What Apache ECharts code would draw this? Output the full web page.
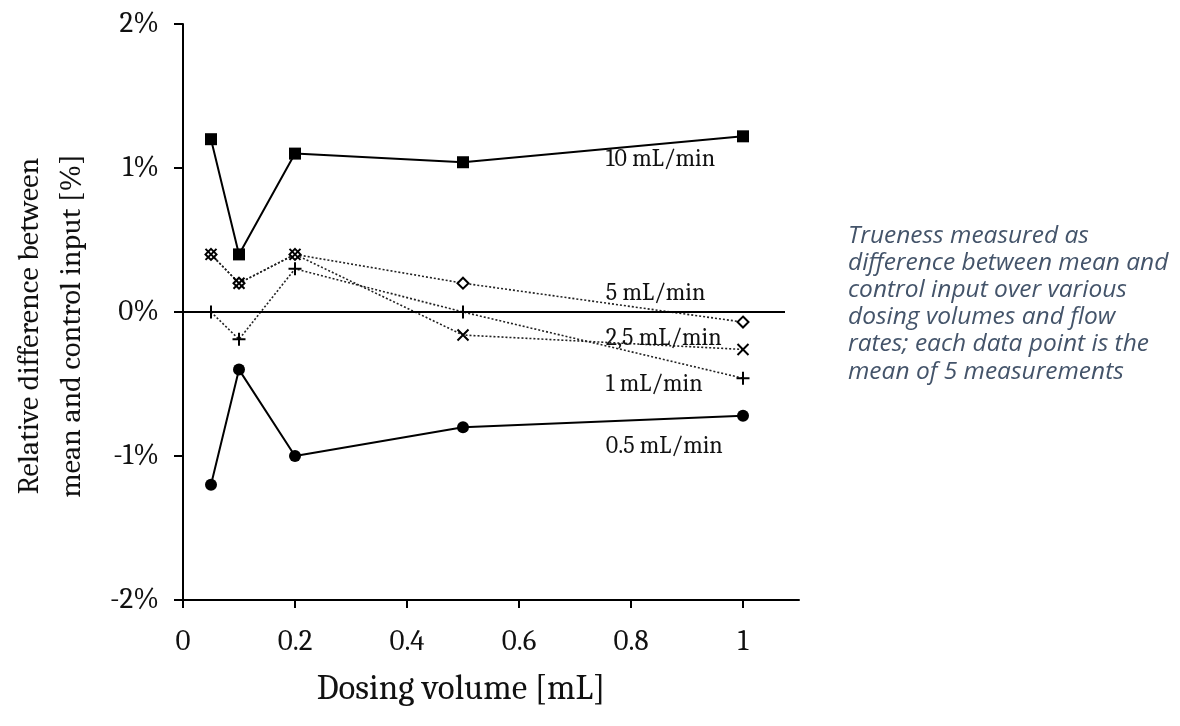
<!DOCTYPE html>
<html>
<head>
<meta charset="utf-8">
<script src="https://cdn.jsdelivr.net/npm/echarts@6/dist/echarts.min.js"></script>
<style>
  html, body { margin: 0; padding: 0; background: #fff; }
  #chart { width: 1180px; height: 726px; }
</style>
</head>
<body>
<div id="chart"></div>
<script>
// dosing volumes [mL]
const volumes = [0.05, 0.1, 0.2, 0.5, 1];

// relative difference [%] per flow rate
const flow10 = [1.2, 0.4, 1.1, 1.04, 1.22];
const flow5 = [0.4, 0.2, 0.4, 0.2, -0.07];
const flow25 = [0.4, 0.2, 0.4, -0.16, -0.26];
const flow1 = [0.0, -0.19, 0.3, 0.0, -0.46];
const flow05 = [-1.2, -0.4, -1.0, -0.8, -0.72];

// in-plot annotations
const labelNames = ['10 mL/min', '5 mL/min', '2,5 mL/min', '1 mL/min', '0.5 mL/min'];
const labelX = [0.755, 0.755, 0.755, 0.755, 0.755];
const labelY = [1.06, 0.13, -0.18, -0.5, -0.93];

const yTicks = [-2, -1, 0, 1, 2];
const xTicks = [0, 0.2, 0.4, 0.6, 0.8, 1];

const note = 'Trueness measured as\ndifference between mean and\ncontrol input over various\ndosing volumes and flow\nrates; each data point is the\nmean of 5 measurements';

const serif = 'Cambria, "DejaVu Serif", serif';

const CROSS = 'path://M0,0L10,10M10,0L0,10';
const PLUS = 'path://M5,0L5,10M0,5L10,5';
const DIAMOND = 'path://M5,0L10,5L5,10L0,5Z';

const pairs = (ys) => volumes.map((v, i) => [v, ys[i]]);

const markFor = (i) => ({
  symbolSize: 0,
  silent: true,
  label: {
    show: true,
    position: 'right',
    distance: 0,
    formatter: labelNames[i],
    fontFamily: serif,
    fontSize: 24,
    color: '#111'
  },
  data: [{ coord: [labelX[i], labelY[i]] }]
});

const chart = echarts.init(document.getElementById('chart'));

const option = {
  animation: false,
  backgroundColor: '#fff',
  grid: { left: 183, right: 381, top: 24, bottom: 126, outerBoundsMode: 'none' },
  xAxis: {
    type: 'value',
    min: 0,
    max: 1.1,
    interval: 0.2,
    name: 'Dosing volume [mL]',
    nameLocation: 'middle',
    nameGap: 72,
    nameTextStyle: { fontFamily: serif, fontSize: 35, color: '#111', padding: [0, 60, 0, 0] },
    axisLine: { onZero: false, lineStyle: { color: '#000', width: 2 } },
    axisTick: { show: true, length: 8, lineStyle: { color: '#000', width: 2 } },
    axisLabel: {
      fontFamily: serif, fontSize: 29, color: '#111', margin: 27,
      showMaxLabel: false,
      formatter: (v) => (xTicks.includes(Math.round(v * 10) / 10) ? String(Math.round(v * 10) / 10) : '')
    },
    splitLine: { show: false }
  },
  yAxis: {
    type: 'value',
    min: -2,
    max: 2,
    interval: 1,
    name: 'Relative difference between\nmean and control input [%]',
    nameLocation: 'middle',
    nameRotate: 90,
    nameGap: 90,
    nameTextStyle: { fontFamily: serif, fontSize: 30, color: '#111', lineHeight: 42, padding: [0, 28, 0, 0] },
    axisLine: { show: true, lineStyle: { color: '#000', width: 2 } },
    axisTick: { show: true, length: 9, lineStyle: { color: '#000', width: 2 } },
    axisLabel: {
      fontFamily: serif, fontSize: 29, color: '#111', margin: 24,
      formatter: (v) => (yTicks.includes(v) ? v + '%' : '')
    },
    splitLine: { show: false }
  },
  series: [
    {
      name: '10 mL/min',
      type: 'line',
      data: pairs(flow10),
      symbol: 'rect',
      symbolSize: 12,
      lineStyle: { color: '#000', width: 2 },
      itemStyle: { color: '#000' },
      markPoint: markFor(0),
      markLine: {
        silent: true,
        symbol: ['none', 'none'],
        label: { show: false },
        lineStyle: { color: '#000', width: 2, type: 'solid' },
        data: [[{ coord: [0, 0] }, { coord: [1.075, 0] }]]
      }
    },
    {
      name: '5 mL/min',
      type: 'line',
      data: pairs(flow5),
      symbol: DIAMOND,
      symbolSize: 11,
      lineStyle: { color: '#222', width: 1.6, type: [2, 2] },
      itemStyle: { color: '#fff', borderColor: '#000', borderWidth: 2 },
      markPoint: markFor(1)
    },
    {
      name: '2,5 mL/min',
      type: 'line',
      data: pairs(flow25),
      symbol: CROSS,
      symbolSize: 11,
      lineStyle: { color: '#222', width: 1.6, type: [2, 2] },
      itemStyle: { color: 'none', borderColor: '#000', borderWidth: 2 },
      markPoint: markFor(2)
    },
    {
      name: '1 mL/min',
      type: 'line',
      data: pairs(flow1),
      symbol: PLUS,
      symbolSize: 13,
      lineStyle: { color: '#222', width: 1.6, type: [2, 2] },
      itemStyle: { color: 'none', borderColor: '#000', borderWidth: 2 },
      markPoint: markFor(3)
    },
    {
      name: '0.5 mL/min',
      type: 'line',
      data: pairs(flow05),
      symbol: 'circle',
      symbolSize: 12,
      lineStyle: { color: '#000', width: 2 },
      itemStyle: { color: '#000' },
      markPoint: markFor(4)
    }
  ],
  graphic: [
    {
      type: 'text',
      left: 848,
      top: 222,
      style: {
        text: note,
        font: 'italic 24.5px "Open Sans", "Noto Sans", sans-serif',
        fill: '#44546a',
        lineHeight: 27.2
      }
    }
  ]
};

chart.setOption(option);
window.addEventListener('resize', () => chart.resize());
</script>
</body>
</html>
